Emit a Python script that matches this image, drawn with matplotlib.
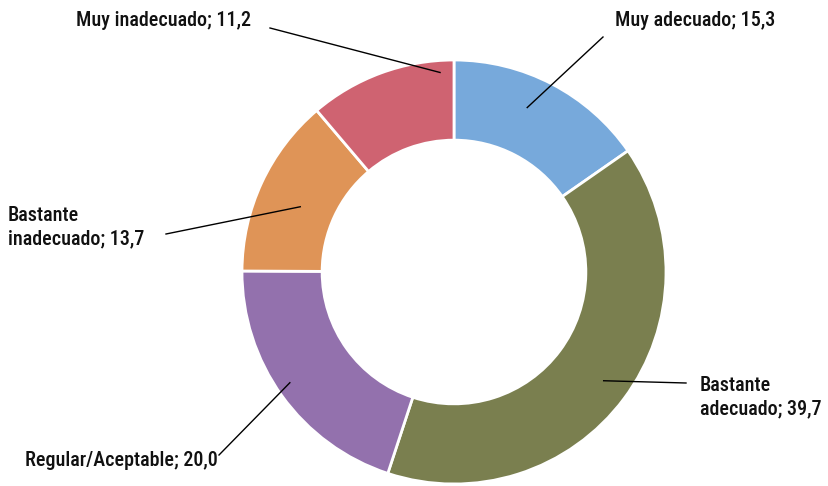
import matplotlib
matplotlib.use('Agg')
import matplotlib.pyplot as plt
import numpy as np

labels = ['Muy adecuado', 'Bastante adecuado', 'Regular/Aceptable',
          'Bastante inadecuado', 'Muy inadecuado']
text_labels = ['Muy adecuado; 15,3', 'Bastante\nadecuado; 39,7', 'Regular/Aceptable; 20,0',
               'Bastante\ninadecuado; 13,7', 'Muy inadecuado; 11,2']
values = [15.3, 39.7, 20.0, 13.7, 11.2]
colors = ['#77A9DB', '#7A7F4F', '#9371AD', '#DF9457', '#CF6371']

# layout (pixel coords, y down): leader start (angle deg, radius), leader end, text pos, alignment
anchors = [(66, 180), (-36, 185), (214, 198), (157, 167), (94, 200)]
line_ends = [(603, 37), (686, 383), (219, 455), (166, 234), (270, 28)]
text_pos = [(615, 20), (700, 397), (218, 461), (8, 227), (251, 20)]
aligns = ['left', 'left', 'right', 'left', 'right']

W, H = 829, 486
cx, cy, R = 454, 272, 212

plt.rcParams['font.family'] = ['Roboto Condensed', 'DejaVu Sans']

fig = plt.figure(figsize=(W / 100, H / 100), dpi=100)
ax = fig.add_axes([0, 0, 1, 1])
ax.pie(values, colors=colors, startangle=90, counterclock=False,
       center=(cx, H - cy), radius=R, frame=True,
       wedgeprops=dict(width=R * 0.378, edgecolor='white', linewidth=2))

for i in range(len(values)):
    a, r = anchors[i]
    x0 = cx + r * np.cos(np.radians(a))
    y0 = (H - cy) + r * np.sin(np.radians(a))
    x1, y1 = line_ends[i]
    ax.plot([x0, x1], [y0, H - y1], color='black', lw=1)
    tx, ty = text_pos[i]
    ax.text(tx, H - ty, text_labels[i], ha=aligns[i], va='center',
            fontsize=14.5, fontweight='medium', linespacing=1.32, color='#111111')

ax.set_xlim(0, W)
ax.set_ylim(0, H)
ax.set_aspect('equal')
ax.axis('off')
fig.savefig('out.png', dpi=100)
